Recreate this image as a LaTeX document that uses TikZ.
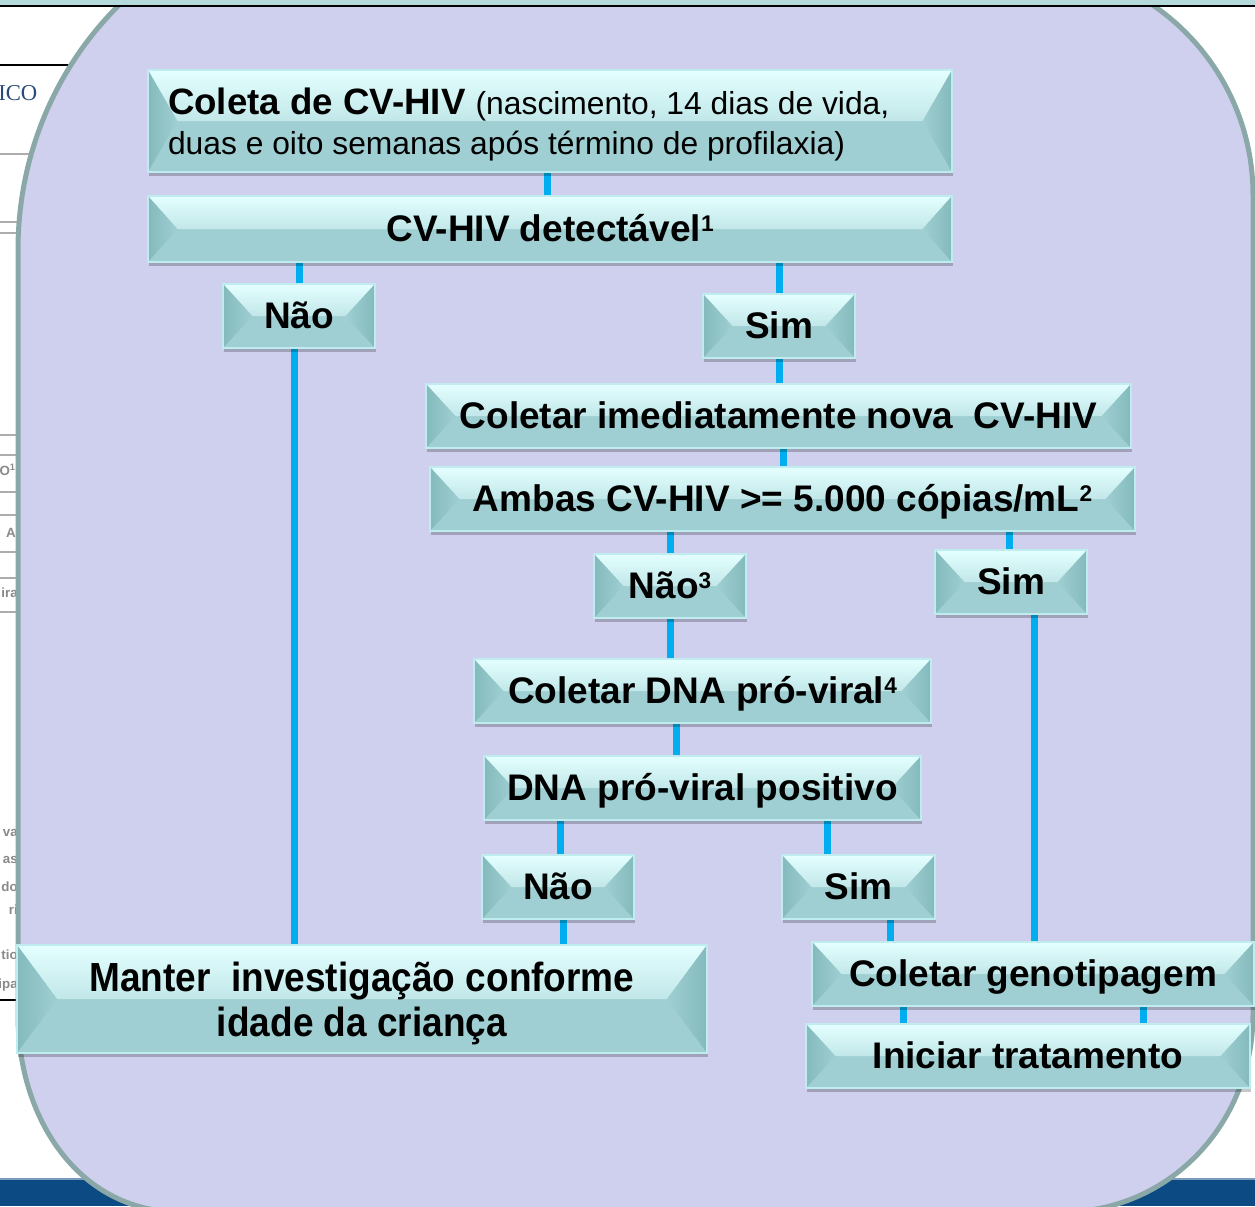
\documentclass[tikz,border=0pt]{standalone}
\usepackage{fontspec}
\usepackage{graphicx}
\setmainfont{Liberation Sans}
\newfontfamily\pageserif{Liberation Serif}
\usetikzlibrary{shadows}
\definecolor{lav}{HTML}{CFCFEE}
\definecolor{lavborder}{HTML}{8AA8A8}
\definecolor{conncol}{HTML}{00AEEF}
\definecolor{boxbase}{HTML}{9FCFD2}
\definecolor{boxhi}{HTML}{E4FFFF}
\definecolor{boxside}{HTML}{84BABD}
\definecolor{boxedge}{HTML}{BFECEE}
\definecolor{topband}{HTML}{B4DADB}
\definecolor{navy}{HTML}{0B4A82}
\definecolor{pageblue}{HTML}{2A4A7A}
\definecolor{pagegray}{HTML}{8A8A8A}
\pgfdeclarelayer{back}
\pgfdeclarelayer{conn}
\pgfsetlayers{back,conn,main}
\newcommand\sups[1]{\raisebox{8pt}{\fontsize{17}{17}\selectfont #1}}
\newcommand\leftpair[4]{\vtop{\baselineskip=#2\relax\lineskiplimit=-1000pt\relax\hbox to #1{#3\hfil}\hbox to #1{#4\hfil}}}
\newcommand\centerpair[3]{\vtop{\baselineskip=#1\relax\lineskiplimit=-1000pt\relax\halign{\hfil##\hfil\cr#2\cr#3\cr}}}
\tikzset{
  bevd/.store in=\bevd, bevd=22pt,
  sz/.style 2 args={minimum width=#1*0.75pt, minimum height=#2*0.75pt},
  bx/.style={rectangle, inner sep=0pt, outer sep=0pt, fill=boxbase, draw=boxedge, line width=0.8pt,
    drop shadow={shadow xshift=0.8pt, shadow yshift=-3pt, fill=black, opacity=0.22},
    font=\fontsize{27.75}{33}\selectfont\bfseries, text height=19.4pt, text depth=0pt,
    path picture={
      \shade[top color=boxhi, bottom color=boxbase]
        (path picture bounding box.north west) -- (path picture bounding box.north east)
        -- ([xshift=-\bevd]path picture bounding box.east) -- ([xshift=\bevd]path picture bounding box.west) -- cycle;
      \shade[left color=boxside, right color=boxbase]
        (path picture bounding box.north west) -- ([xshift=\bevd]path picture bounding box.west)
        -- (path picture bounding box.south west) -- cycle;
      \shade[right color=boxside, left color=boxbase]
        (path picture bounding box.north east) -- ([xshift=-\bevd]path picture bounding box.east)
        -- (path picture bounding box.south east) -- cycle;
    }},
  conn/.style={draw=conncol, line width=5.25pt},
  pageline/.style={draw=pagegray!70, line width=0.8pt},
  frag/.style={inner sep=0pt, anchor=east, text=pagegray, font=\fontsize{10}{10}\selectfont\bfseries}
}
\begin{document}
\begin{tikzpicture}[x=0.75pt,y=-0.75pt]
\useasboundingbox (0,0) rectangle (1255,1206);
\clip (0,0) rectangle (1255,1206);
\begin{pgfonlayer}{back}
  \fill[white] (0,0) rectangle (1255,1206);
  \draw[black, line width=1pt] (0,65) -- (200,65);
  \foreach \yy in {154,222,233,435,455,492,515,552,578,612}
    \draw[pageline] (0,\yy) -- (40,\yy);
  \draw[black, line width=1pt] (0,1000) -- (40,1000);
  \node[inner sep=0pt, anchor=west, text=pageblue, font=\pageserif\fontsize{17}{17}\selectfont] (f0) at (-2,93) {ICO};
  \node[frag] (f1) at (16,470) {O\textsuperscript{1}};
  \node[frag] (f2) at (16,533) {A};
  \node[frag] (f3) at (18,593) {ira};
  \node[frag] (f4) at (18,833) {va};
  \node[frag] (f5) at (18,860) {as};
  \node[frag] (f6) at (18,887) {do};
  \node[frag] (f7) at (18,910) {ri};
  \node[frag] (f8) at (18,955) {tio};
  \node[frag] (f9) at (18,985) {ipa};
  \fill[navy] (0,1180) rectangle (1255,1206);
  \draw[navy!55!white, line width=1pt] (0,1179) -- (1255,1179);
  \filldraw[fill=lav, draw=lavborder, line width=3.75pt]
    (18,1015) -- (18,250) .. controls (18,62) and (165,-90) .. (350,-90)
    -- (1023,-35) .. controls (1150,-35) and (1253,68) .. (1253,195)
    -- (1253,1014) .. controls (1253,1125) and (1168,1212) .. (1063,1212)
    -- (180,1212) .. controls (80,1212) and (18,1120) .. (18,1015) -- cycle;
  \fill[topband] (0,0) rectangle (1255,5);
  \draw[black, line width=1.2pt] (0,6) -- (1255,6);
\end{pgfonlayer}

\node[bx, sz={804}{102}, text height=0pt, text depth=10.5pt] (b1) at (550,121)
  {\leftpair{573pt}{30.3pt}{\fontsize{27.5}{30}\selectfont\bfseries Coleta de CV-HIV \fontsize{23.85}{30}\selectfont\mdseries (nascimento, 14 dias de vida,}{\fontsize{23.85}{30}\selectfont\mdseries duas e oito semanas após término de profilaxia)}};
\node[bx, sz={804}{66}] (b2) at (550,229) {CV-HIV detectável\sups{1}};
\node[bx, sz={152}{64}] (nL) at (299,316) {Não};
\node[bx, sz={152}{64}] (sA) at (779,326) {Sim};
\node[bx, sz={705}{64}] (b5) at (778.5,416) {Coletar imediatamente nova~ CV-HIV};
\node[bx, sz={705}{64}] (b6) at (782.5,499) {Ambas CV-HIV >= 5.000 cópias/mL\sups{2}};
\node[bx, sz={152}{64}] (n3) at (670,586) {Não\sups{3}};
\node[bx, sz={152}{64}] (sB) at (1011,582) {Sim};
\node[bx, sz={457}{64}] (b9) at (702.5,691) {Coletar DNA pró-viral\sups{4}};
\node[bx, sz={437}{64}] (b10) at (702.5,788) {DNA pró-viral positivo};
\node[bx, sz={152}{64}] (nC) at (558,887) {Não};
\node[bx, sz={153}{64}] (sC) at (858.5,887) {Sim};
\node[bx, sz={690}{108}, bevd=30pt, text height=0pt, text depth=12pt,
      font=\fontsize{30.5}{34}\selectfont\bfseries] (bM) at (362,999)
  {\centerpair{33.75pt}{\scalebox{0.91}[1]{Manter~ investigação conforme}}{\scalebox{0.91}[1]{idade da criança}}};
\node[bx, sz={442}{64}] (bG) at (1033,974) {Coletar genotipagem};
\node[bx, sz={444}{64}] (bT) at (1028,1056) {Iniciar tratamento};

\begin{pgfonlayer}{conn}
  \draw[conn] (b1.south -| 547,0) -- (b2.north -| 547,0);
  \draw[conn] (b2.south -| 299,0) -- (nL.north -| 299,0);
  \draw[conn] (b2.south -| 779,0) -- (sA.north -| 779,0);
  \draw[conn] (nL.south -| 294,0) -- (bM.north -| 294,0);
  \draw[conn] (sA.south -| 779,0) -- (b5.north -| 779,0);
  \draw[conn] (b5.south -| 783,0) -- (b6.north -| 783,0);
  \draw[conn] (b6.south -| 670,0) -- (n3.north -| 670,0);
  \draw[conn] (b6.south -| 1009,0) -- (sB.north -| 1009,0);
  \draw[conn] (n3.south -| 670,0) -- (b9.north -| 670,0);
  \draw[conn] (sB.south -| 1034,0) -- (bG.north -| 1034,0);
  \draw[conn] (b9.south -| 676,0) -- (b10.north -| 676,0);
  \draw[conn] (b10.south -| 560,0) -- (nC.north -| 560,0);
  \draw[conn] (b10.south -| 827,0) -- (sC.north -| 827,0);
  \draw[conn] (nC.south -| 563,0) -- (bM.north -| 563,0);
  \draw[conn] (sC.south -| 890,0) -- (bG.north -| 890,0);
  \draw[conn] (bG.south -| 903,0) -- (bT.north -| 903,0);
  \draw[conn] (bG.south -| 1143,0) -- (bT.north -| 1143,0);
\end{pgfonlayer}
\end{tikzpicture}
\end{document}
